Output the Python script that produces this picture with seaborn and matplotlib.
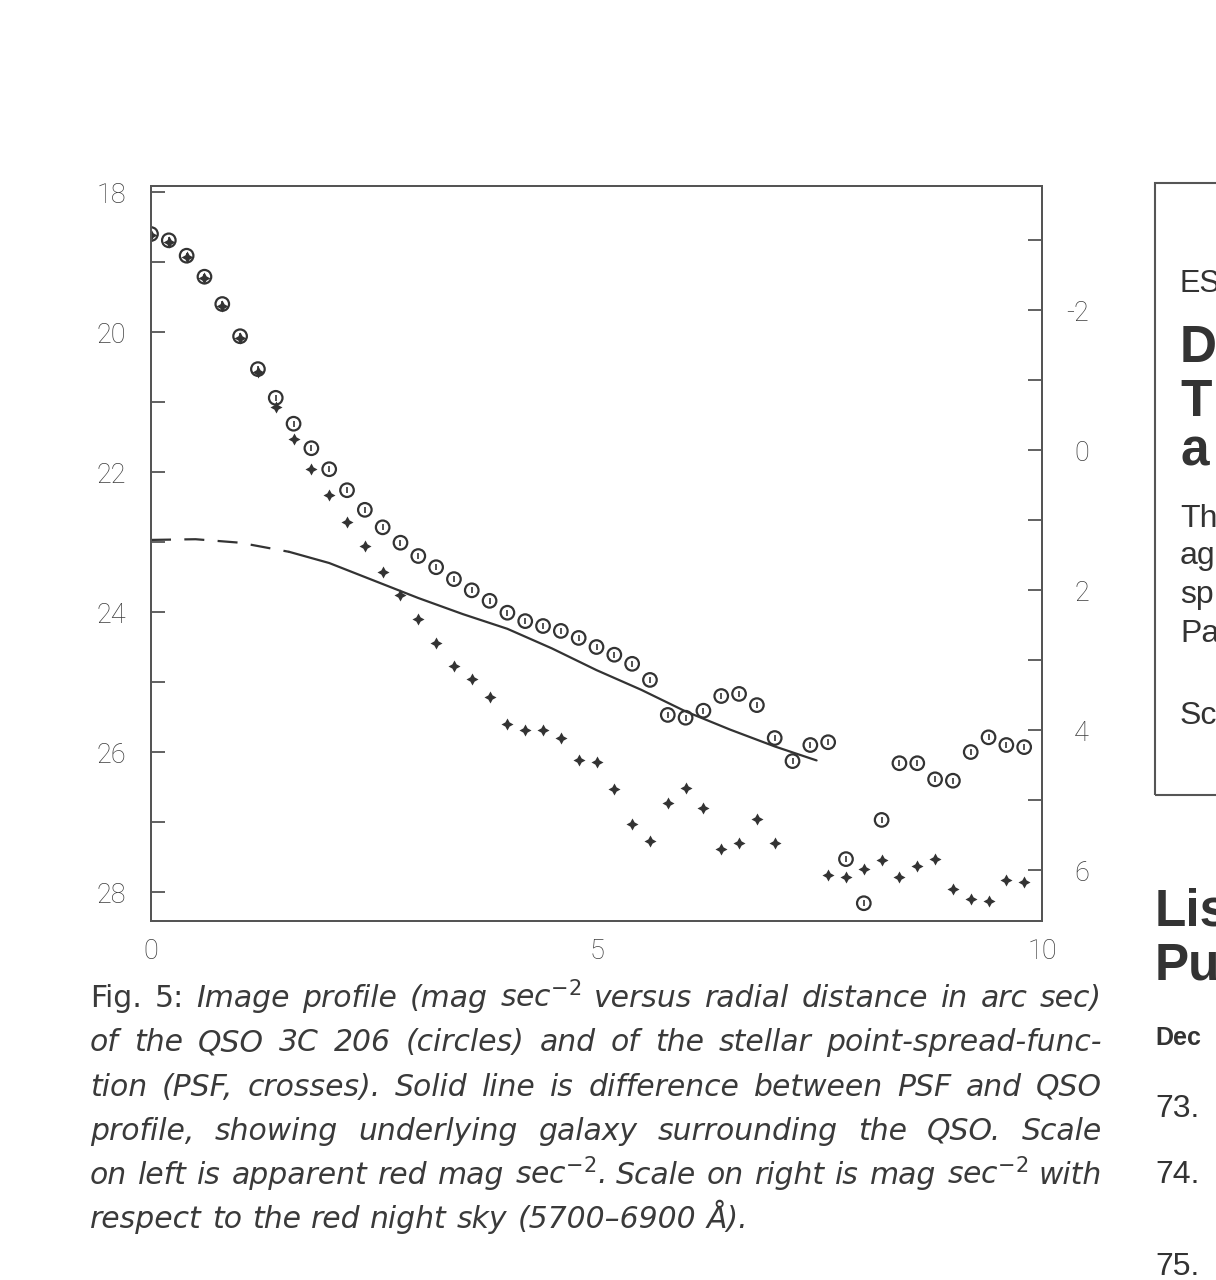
import numpy as np
import matplotlib
matplotlib.use('Agg')
import matplotlib.pyplot as plt
import seaborn as sns
from matplotlib.patches import Rectangle

# radial distance (arc sec) of the measured points
radius = [0.0, 0.2, 0.4, 0.6, 0.8, 1.0, 1.2, 1.4, 1.6, 1.8,
          2.0, 2.2, 2.4, 2.6, 2.8, 3.0, 3.2, 3.4, 3.6, 3.8,
          4.0, 4.2, 4.4, 4.6, 4.8, 5.0, 5.2, 5.4, 5.6, 5.8,
          6.0, 6.2, 6.4, 6.6, 6.8, 7.0, 7.2, 7.4, 7.6, 7.8,
          8.0, 8.2, 8.4, 8.6, 8.8, 9.0, 9.2, 9.4, 9.6, 9.8]

# QSO 3C 206 profile (circles), mag sec^-2
qso_mag = [18.60, 18.69, 18.91, 19.21, 19.60, 20.06, 20.53, 20.94, 21.31, 21.66,
           21.96, 22.26, 22.54, 22.79, 23.01, 23.20, 23.36, 23.53, 23.69, 23.84,
           24.01, 24.13, 24.20, 24.27, 24.37, 24.50, 24.61, 24.74, 24.97, 25.47,
           25.51, 25.41, 25.20, 25.17, 25.33, 25.80, 26.13, 25.90, 25.86, 27.53,
           28.16, 26.97, 26.16, 26.16, 26.39, 26.41, 26.00, 25.79, 25.90, 25.93]

# stellar PSF profile (crosses), mag sec^-2
psf_mag = [18.62, 18.71, 18.93, 19.23, 19.63, 20.09, 20.57, 21.07, 21.53, 21.96,
           22.33, 22.71, 23.06, 23.43, 23.76, 24.10, 24.44, 24.77, 24.96, 25.21,
           25.60, 25.69, 25.69, 25.80, 26.11, 26.14, 26.53, 27.03, 27.27, 26.73,
           26.51, 26.80, 27.39, 27.30, 26.96, 27.30, np.nan, np.nan, 27.76, 27.79,
           27.67, 27.54, 27.79, 27.63, 27.53, 27.96, 28.10, 28.13, 27.83, 27.86]

# difference PSF - QSO (underlying galaxy)
galaxy_r = [0.0, 0.5, 1.0, 1.55, 2.0, 2.5, 3.0, 3.5, 4.0, 4.5, 5.0, 5.5, 6.0, 6.5, 7.0, 7.47]
galaxy_mag = [22.97, 22.96, 23.01, 23.14, 23.30, 23.55, 23.80, 24.03, 24.24, 24.52,
              24.83, 25.11, 25.42, 25.68, 25.92, 26.12]
dashed_until = 1.55

sky_offset = 21.69  # red night sky, mag sec^-2

x_ticks = [0, 1, 2, 3, 4, 5, 6, 7, 8, 9, 10]
x_labels = ['0', '', '', '', '', '5', '', '', '', '', '10']
left_ticks = [18, 19, 20, 21, 22, 23, 24, 25, 26, 27, 28]
left_labels = ['18', '', '20', '', '22', '', '24', '', '26', '', '28']
right_ticks = [-3, -2, -1, 0, 1, 2, 3, 4, 5, 6]
right_labels = ['', '-2', '', '0', '', '2', '', '4', '', '6']

caption_lines = [
    [('Fig.', 'normal'), ('5:', 'normal'), ('Image', 'italic'), ('profile', 'italic'), ('(mag', 'italic'),
     ('sec$^{-2}$', 'italic'), ('versus', 'italic'), ('radial', 'italic'), ('distance', 'italic'),
     ('in', 'italic'), ('arc', 'italic'), ('sec)', 'italic')],
    'of the QSO 3C 206 (circles) and of the stellar point-spread-func-',
    'tion (PSF, crosses). Solid line is difference between PSF and QSO',
    'profile, showing underlying galaxy surrounding the QSO. Scale',
    'on left is apparent red mag sec$^{-2}$. Scale on right is mag sec$^{-2}$ with',
    'respect to the red night sky (5700–6900 Å).',
]

W, H = 1216, 1280
ink = '#333333'
frame = '#555555'

sns.set_style('white')
plt.rcParams['font.family'] = ['DejaVu Sans']
plt.rcParams['mathtext.fontset'] = 'custom'
plt.rcParams['mathtext.rm'] = 'DejaVu Sans'
plt.rcParams['mathtext.it'] = 'DejaVu Sans:italic'

fig = plt.figure(figsize=(W / 100, H / 100), dpi=100)
fig.patch.set_facecolor('white')

ax_l, ax_r, ax_t, ax_b = 151, 1042, 186, 921
ax = fig.add_axes([ax_l / W, 1 - ax_b / H, (ax_r - ax_l) / W, (ax_b - ax_t) / H])
ymin, ymax = 17.914, 28.414
ax.set_xlim(0, 10)
ax.set_ylim(ymax, ymin)

# galaxy line: dashed near the centre, solid further out
gr = np.array(galaxy_r)
gm = np.array(galaxy_mag)
inner = gr <= dashed_until
outer = gr >= dashed_until
sns.lineplot(x=gr[inner], y=gm[inner], ax=ax, color=ink, lw=1.6, estimator=None, sort=False,
             linestyle=(0, (9, 6)))
sns.lineplot(x=gr[outer], y=gm[outer], ax=ax, color=ink, lw=1.6, estimator=None, sort=False)

# PSF crosses
sns.scatterplot(x=radius, y=psf_mag, ax=ax, marker=(4, 1, 0), s=75, color=ink, linewidth=0, zorder=3)
# QSO circles with the plotter's little stroke inside
sns.scatterplot(x=radius, y=qso_mag, ax=ax, marker='o', s=95, facecolors='none', edgecolors=ink,
                linewidth=1.6, zorder=4)
ax.plot(radius, qso_mag, linestyle='none', marker='|', markersize=5, mew=1.2, color=ink, zorder=4)

tick_font = dict(family=['Roboto', 'DejaVu Sans'], weight='light', size=19.5, color='#3c3c3c')

ax.set_xticks(x_ticks)
ax.set_xticklabels(x_labels, **tick_font)
ax.set_yticks(left_ticks)
ax.set_yticklabels(left_labels, **tick_font)
ax.tick_params(axis='x', direction='in', length=10, width=1.3, color=frame, pad=12, top=False)
ax.tick_params(axis='y', direction='in', length=10, width=1.3, color=frame, pad=18, right=False)

ax2 = ax.twinx()
ax2.set_ylim(ymax - sky_offset, ymin - sky_offset)
ax2.set_yticks(right_ticks)
ax2.set_yticklabels(right_labels, **tick_font)
ax2.tick_params(axis='y', direction='in', length=10, width=1.3, color=frame, pad=34)
for lab in ax2.get_yticklabels():
    lab.set_horizontalalignment('right')

for a in (ax, ax2):
    a.grid(False)
    for sp in a.spines.values():
        sp.set_color(frame)
        sp.set_linewidth(1.4)

# caption, justified like the printed page
renderer = fig.canvas.get_renderer()
cap_x0, cap_x1 = 90, 1102
cap_y0, cap_dy = 1007, 44.3
cap_style = dict(fontsize=21.5, color='#3a3a3a', va='baseline', ha='left', family='DejaVu Sans')

for i, line in enumerate(caption_lines):
    if isinstance(line, str):
        parts = [(w, 'italic') for w in line.split(' ')]
    else:
        parts = line
    y = 1 - (cap_y0 + i * cap_dy) / H
    texts = [fig.text(0, y, w, style=st, **cap_style) for w, st in parts]
    widths = [t.get_window_extent(renderer).width for t in texts]
    last = i == len(caption_lines) - 1
    gap = 10 if last else (cap_x1 - cap_x0 - sum(widths)) / (len(texts) - 1)
    x = cap_x0
    for t, w in zip(texts, widths):
        t.set_x(x / W)
        x += w + gap

# neighbouring column of the page, cut at the edge
fig.add_artist(Rectangle((1155 / W, 1 - 795 / H), 200 / W, (795 - 183) / H, transform=fig.transFigure,
                         fill=False, ec=frame, lw=1.5))
side = [
    ('ES', 1180, 292, 22, 'normal'),
    ('D', 1180, 362, 37, 'bold'),
    ('T', 1180, 416, 37, 'bold'),
    ('a', 1180, 466, 37, 'bold'),
    ('Th', 1180, 527, 23, 'normal'),
    ('ag', 1180, 564, 23, 'normal'),
    ('sp', 1180, 603, 23, 'normal'),
    ('Pa', 1180, 642, 23, 'normal'),
    ('Sc', 1180, 724, 23, 'normal'),
    ('Lis', 1155, 925, 37, 'bold'),
    ('Pu', 1155, 979, 37, 'bold'),
    ('Dec', 1155, 1045, 18, 'bold'),
    ('73.', 1155, 1117, 23, 'normal'),
    ('74.', 1155, 1183, 23, 'normal'),
    ('75.', 1155, 1275, 23, 'normal'),
]
for txt, px, py, fs, wt in side:
    fig.text(px / W, 1 - py / H, txt, fontsize=fs, weight=wt, color='#333333',
             family='Liberation Sans', va='baseline', ha='left')

fig.savefig('out.png', dpi=100, facecolor='white')
